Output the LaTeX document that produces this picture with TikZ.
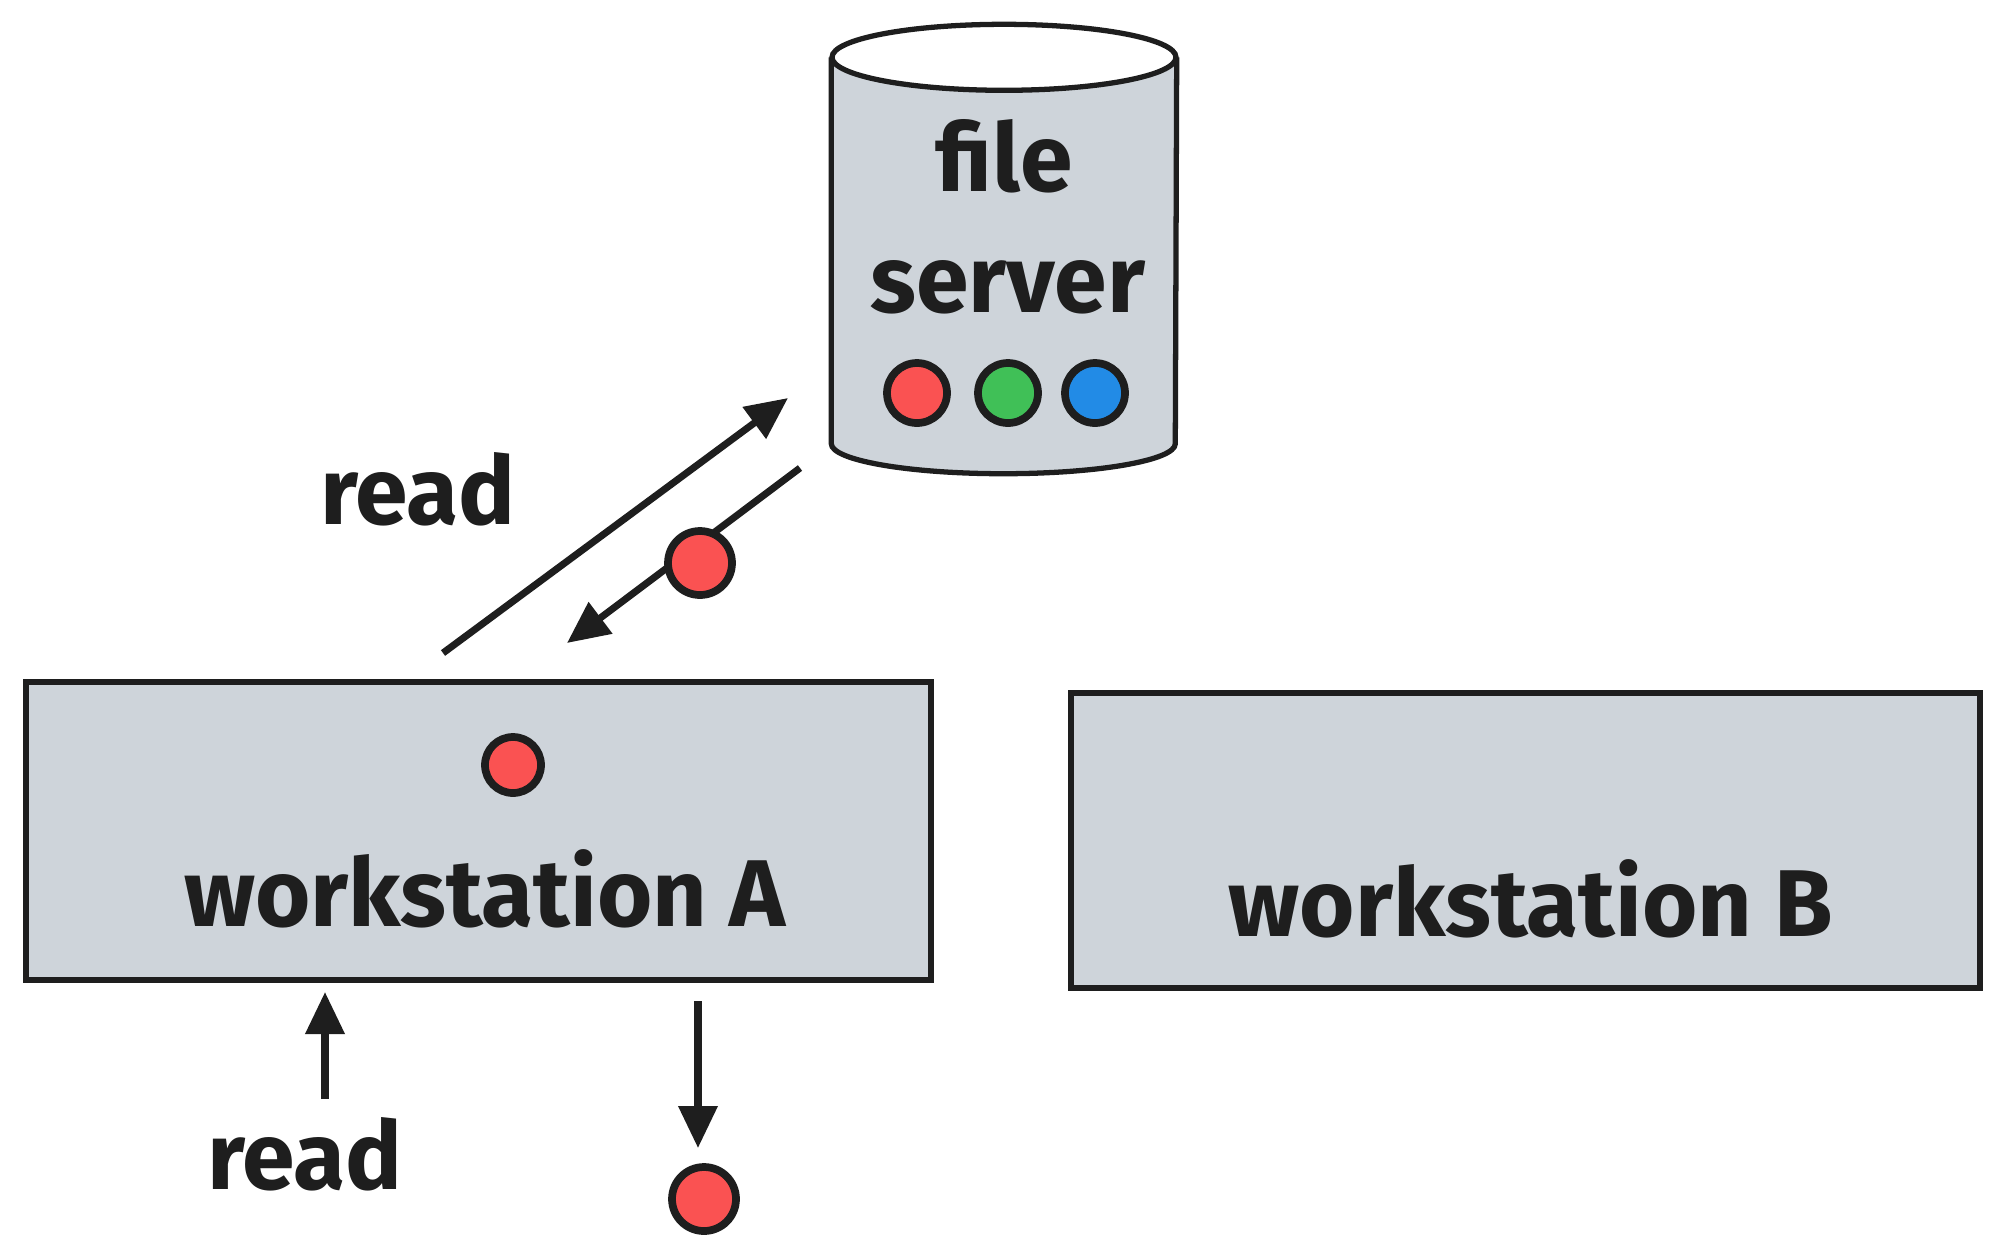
\documentclass[tikz,border=0pt]{standalone}
\usepackage{fontspec}
\setmainfont{Fira Sans}
\usepackage{tikz}
\usetikzlibrary{positioning,arrows.meta}
\definecolor{inkBlack}{HTML}{1E1E1E}
\definecolor{boxGray}{HTML}{CED4DA}
\definecolor{dotRed}{HTML}{FA5252}
\definecolor{dotGreen}{HTML}{40C057}
\definecolor{dotBlue}{HTML}{228BE6}
\tikzset{
  ink/.style={draw=inkBlack,line width=1.5pt},
  machine/.style={ink,fill=boxGray,rectangle,inner sep=0pt},
  filedot/.style={ink,line width=2.2pt,circle,inner sep=0pt,minimum size=#1},
  filedot/.default=0.6cm,
  hand/.style={text=inkBlack,font=\fontsize{27}{30}\selectfont\bfseries,inner sep=0pt},
  flow/.style={draw=inkBlack,line width=2pt,-{Triangle[length=4.2mm,width=3.8mm]}}
}

\begin{document}
\begin{tikzpicture}
		\useasboundingbox (0,0) rectangle (20,-12.52);
		% file server
		\node[rectangle,inner sep=0pt,minimum width=3.44cm,minimum height=3.85cm] (server) at (10.04,-2.505) {};
		\fill[boxGray] (server.north west) -- (server.south west)
		  arc[start angle=180,end angle=360,x radius=1.72,y radius=0.30] -- (server.north east) -- cycle;
		\draw[ink] (server.north west) -- (server.south west)
		  arc[start angle=180,end angle=360,x radius=1.72,y radius=0.30] -- (server.north east);
		\draw[ink,fill=white] (server.north) ellipse[x radius=1.72,y radius=0.33];
		\node[hand] (fileTxt) at (10.04,-1.56) {file};
		\node[hand] (serverTxt) at (10.08,-2.87) {server};
		\node[filedot,fill=dotRed] (srvRed) at (9.17,-3.93) {};
		\node[filedot,fill=dotGreen] (srvGreen) at (10.08,-3.93) {};
		\node[filedot,fill=dotBlue] (srvBlue) at (10.95,-3.93) {};

		% workstations
		\node[machine,minimum width=9.05cm,minimum height=2.98cm] (wsA) at (4.785,-8.31) {};
		\node[hand] (wsAtxt) at (4.85,-8.89) {workstation A};
		\node[filedot=0.56cm,fill=dotRed] (wsAdot) at (5.13,-7.65) {};
		\node[machine,minimum width=9.09cm,minimum height=2.95cm] (wsB) at (15.255,-8.405) {};
		\node[hand] (wsBtxt) at (15.31,-8.99) {workstation B};

		% read from server
		\coordinate (rdTail) at (4.43,-6.53);
		\coordinate (rdTip) at (7.88,-3.98);
		\draw[flow] (rdTail) -- (rdTip);
		\node[hand] (rdTop) at (4.18,-4.89) {read};
		\coordinate (backTail) at (8.00,-4.68);
		\coordinate (backTip) at (5.67,-6.43);
		\draw[flow] (backTail) -- (backTip);
		\node[filedot=0.64cm,fill=dotRed] (moveDot) at (7.00,-5.63) {};

		% local read and output
		\coordinate (inTail) at (3.25,-10.99);
		\coordinate (inTip) at (3.25,-9.92);
		\draw[flow] (inTail) -- (inTip);
		\node[hand] (rdBottom) at (3.05,-11.54) {read};
		\coordinate (outTail) at (6.98,-10.01);
		\coordinate (outTip) at (6.98,-11.48);
		\draw[flow] (outTail) -- (outTip);
		\node[filedot=0.64cm,fill=dotRed] (outDot) at (7.04,-11.99) {};
\end{tikzpicture}
\end{document}
